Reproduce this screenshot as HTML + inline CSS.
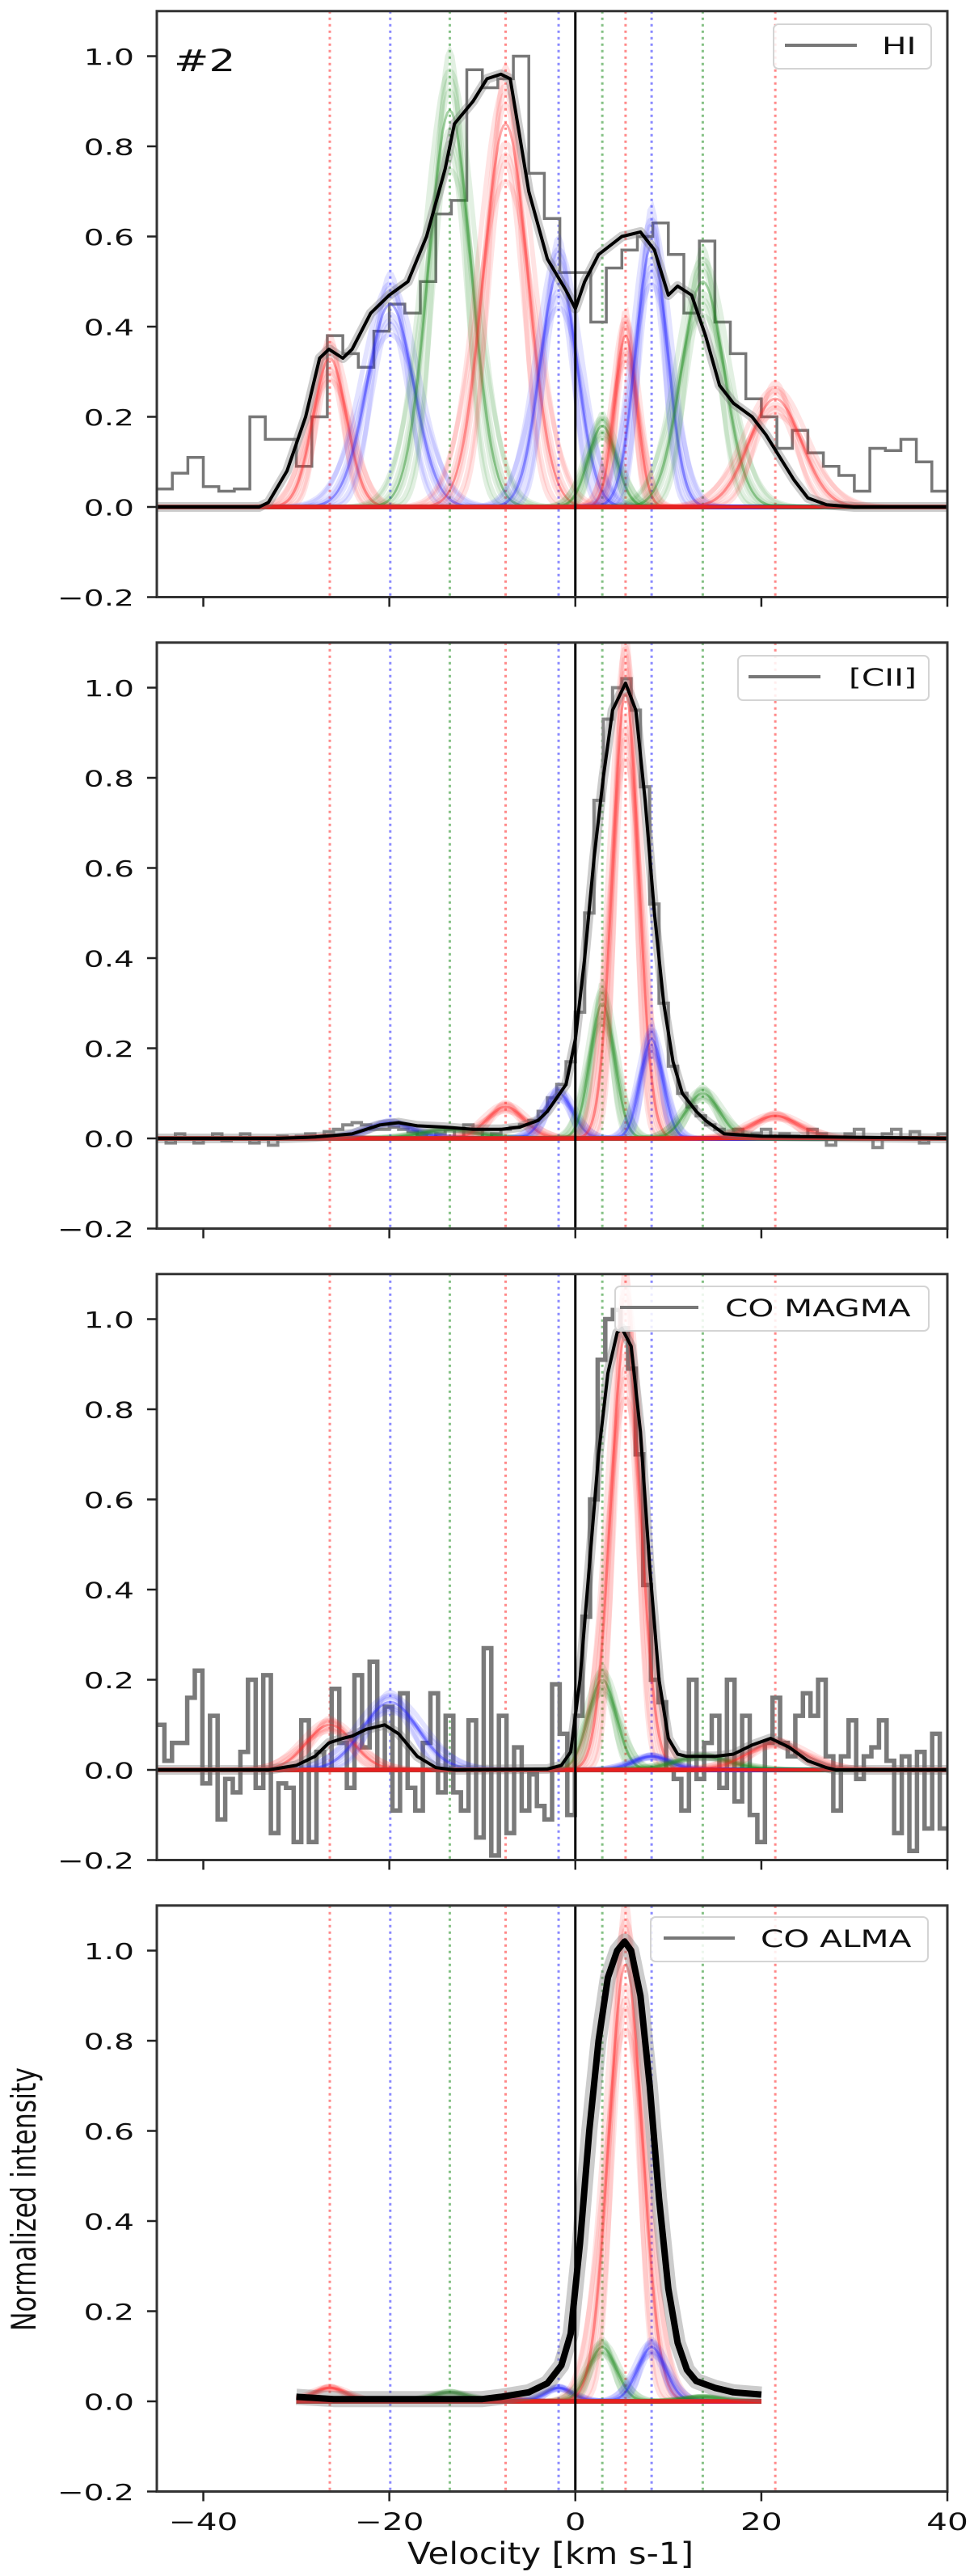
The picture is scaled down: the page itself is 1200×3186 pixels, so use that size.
<!DOCTYPE html>
<html><head><meta charset="utf-8"><style>
html,body{margin:0;padding:0;background:#fff;}
svg{display:block;}
text{font-family:"DejaVu Sans","Liberation Sans",sans-serif;fill:#111;}
</style></head><body>
<svg id="fig" width="1200" height="3186" viewBox="0 0 1200 3186" xmlns="http://www.w3.org/2000/svg"></svg>
<script>
// ---------- data ----------
const panelNames = ['HI', '[CII]', 'CO MAGMA', 'CO ALMA'];
const compCenters = [-26.4, -19.9, -13.5, -7.5, -1.8, 2.9, 5.4, 8.2, 13.7, 21.5];
const compColors = ['red', 'blue', 'green', 'red', 'blue', 'green', 'red', 'blue', 'green', 'red'];
const hiAmps = [0.33, 0.45, 0.88, 0.85, 0.52, 0.18, 0.38, 0.58, 0.50, 0.24];
const hiSigmas = [1.8, 2.5, 2.3, 2.4, 2.0, 1.5, 1.2, 1.7, 2.3, 2.8];
const ciiAmps = [0.005, 0.035, 0.02, 0.07, 0.10, 0.30, 0.99, 0.22, 0.10, 0.05];
const ciiSigmas = [2.0, 2.5, 3.0, 2.0, 1.5, 1.3, 1.4, 1.2, 1.8, 2.5];
const magmaAmps = [0.10, 0.15, 0.0, 0.0, 0.0, 0.20, 0.97, 0.03, 0.03, 0.06];
const magmaSigmas = [2.5, 3.0, 2.0, 2.0, 2.0, 1.5, 1.6, 2.0, 3.0, 3.0];
const almaAmps = [0.03, 0.005, 0.02, 0.005, 0.03, 0.12, 0.97, 0.12, 0.01, 0.0];
const almaSigmas = [1.8, 2.0, 2.0, 2.0, 1.5, 1.5, 1.8, 1.5, 2.0, 2.0];

const hiModelV = [-45,-34,-33,-31,-29,-27.5,-26.5,-25,-24,-22,-20,-18,-16,-14,-13,-11,-9.5,-8,-7,-5,-3,-1,0,1,2.5,5,7,8.5,10,11,12.5,14,15.5,17,19,20.5,22,23.5,25,27,30,40];
const hiModelY = [0,0,0.01,0.08,0.2,0.33,0.35,0.33,0.35,0.43,0.47,0.5,0.6,0.75,0.85,0.9,0.95,0.96,0.95,0.7,0.55,0.48,0.44,0.5,0.56,0.6,0.61,0.57,0.47,0.49,0.47,0.38,0.27,0.23,0.2,0.16,0.11,0.06,0.02,0.005,0,0];
const ciiModelV = [-45,-32,-28,-24,-21,-19,-17,-14,-11,-8,-6,-4,-3,-2,-1,0,1,2,3,4,5.4,6.5,7.5,8.5,9.5,10.5,11.5,13,14,16,20,40];
const ciiModelY = [0,0,0.003,0.01,0.03,0.035,0.028,0.025,0.02,0.02,0.025,0.04,0.06,0.09,0.12,0.22,0.4,0.62,0.8,0.95,1.01,0.95,0.75,0.5,0.3,0.17,0.1,0.06,0.04,0.01,0.005,0];
const magmaModelV = [-45,-33,-30,-28,-26.5,-25,-24,-22.5,-20.5,-19,-17,-15,-13,-3,-1.5,-0.5,0.5,1.5,2.5,3.5,4.5,5,6,7,8,9,10,11,12,15,17,19,21,23,25,27,28,40];
const magmaModelY = [0,0,0.01,0.03,0.06,0.07,0.075,0.09,0.1,0.08,0.03,0.005,0,0.002,0.01,0.04,0.2,0.45,0.7,0.88,0.97,0.98,0.94,0.75,0.45,0.2,0.07,0.035,0.03,0.03,0.035,0.055,0.07,0.05,0.02,0.005,0,0];
const almaModelV = [-30,-26,-10,-8,-5,-3,-1.5,-0.5,0.5,1.5,2.5,3.5,4.5,5.3,6,7,8,9,10,11,12,13,15,17,20];
const almaModelY = [0.01,0.005,0.005,0.01,0.02,0.04,0.08,0.15,0.35,0.6,0.8,0.94,1.0,1.02,1.0,0.9,0.7,0.45,0.25,0.13,0.07,0.045,0.03,0.02,0.015];

const hiHist = [0.04,0.075,0.11,0.045,0.035,0.04,0.2,0.15,0.15,0.09,0.2,0.38,0.34,0.31,0.39,0.45,0.43,0.5,0.65,0.68,0.97,0.93,0.95,1.0,0.74,0.64,0.52,0.52,0.41,0.53,0.57,0.6,0.63,0.56,0.43,0.59,0.41,0.34,0.24,0.2,0.13,0.17,0.12,0.09,0.07,0.035,0.13,0.125,0.15,0.1,0.035];
const ciiHist = [0.0,-0.01,0.01,0.0,-0.01,0.0,0.01,-0.005,0.0,0.01,-0.01,0.0,-0.015,0.005,0.0,
 0.005,0.01,0.0,0.015,0.02,0.03,0.035,0.03,0.02,0.02,0.025,0.02,0.015,0.005,0.0,
 0.01,0.02,0.0,0.03,0.02,0.0,0.01,0.02,0.025,0.03,0.04,0.06,0.09,0.12,0.17,
 0.28,0.5,0.75,0.93,1.0,1.02,0.95,0.78,0.52,0.3,0.16,0.1,0.07,0.05,0.03,
 0.02,0.01,0.02,0.0,0.01,0.02,0.0,0.01,0.005,0.0,0.02,0.01,-0.015,0.0,0.01,0.02,0.0,-0.02,0.01,0.02,0.0,0.015,-0.01,0.0,0.01];
const magmaHist = [0.10,0.02,0.06,0.06,0.16,0.22,-0.03,0.12,-0.11,-0.02,-0.05,0.04,0.2,-0.04,0.21,-0.14,-0.03,-0.04,-0.16,0.11,-0.16,0.04,0.0,0.18,0.06,-0.04,0.21,0.05,0.24,0.0,0.14,-0.09,0.17,-0.04,-0.09,0.06,0.17,-0.05,0.12,-0.05,-0.09,0.11,-0.15,0.27,-0.19,0.12,-0.14,0.05,-0.09,-0.01,-0.08,-0.11,0.19,0.08,-0.1,0.12,0.34,0.6,0.91,1.0,1.02,0.98,0.89,0.7,0.41,0.2,0.15,0.0,-0.02,-0.09,0.2,-0.02,0.06,0.12,-0.04,0.2,-0.07,0.12,-0.1,-0.16,0.06,0.16,0.06,0.03,0.12,0.17,0.12,0.2,0.03,-0.09,0.03,0.11,-0.02,0.03,0.05,0.11,0.02,-0.14,0.03,-0.18,0.04,-0.13,0.08,-0.13];

const xTicks = [-40, -20, 0, 20, 40];
const yTicks = [-0.2, 0.0, 0.2, 0.4, 0.6, 0.8, 1.0];

// ---------- layout ----------
const NS = 'http://www.w3.org/2000/svg';
const svg = document.getElementById('fig');
const X0 = 194, X1 = 1172, XMIN = -45, XMAX = 40;
const PX = (X1 - X0) / (XMAX - XMIN);
const YS = 557.5;
function xS(v) { return X0 + (v - XMIN) * PX; }
function zeroY(p) { return 627 + 781 * p; }
function yS(p, val) { return zeroY(p) - val * YS; }
const colMap = { red: [255, 40, 40], blue: [40, 40, 255], green: [30, 140, 30] };
function el(tag, attrs, parent) {
  const e = document.createElementNS(NS, tag);
  for (const k in attrs) e.setAttribute(k, attrs[k]);
  (parent || svg).appendChild(e);
  return e;
}
function fmt(v) { return (v < 0 ? '\u2212' : '') + Math.abs(v).toFixed(1); }

const defs = el('defs', {});
const panels = [
  { amps: hiAmps, sig: hiSigmas, mv: hiModelV, my: hiModelY, hist: hiHist, h0: -45, hw: 85 / 51, hcol: '#777', hwid: 3.5, vmin: -45, vmax: 40, lw: 4,
    legend: { bx: 957, bw: 195, by: 30, l0: 971, l1: 1060, tx: 1091 } },
  { amps: ciiAmps, sig: ciiSigmas, mv: ciiModelV, my: ciiModelY, hist: ciiHist, h0: -45, hw: 1, hcol: '#888', hwid: 4, vmin: -45, vmax: 40, lw: 4,
    legend: { bx: 913, bw: 236, by: 811, l0: 926, l1: 1015, tx: 1050 } },
  { amps: magmaAmps, sig: magmaSigmas, mv: magmaModelV, my: magmaModelY, hist: magmaHist, h0: -45, hw: 85 / 104, hcol: '#7a7a7a', hwid: 5.5, vmin: -45, vmax: 40, lw: 4,
    legend: { bx: 761, bw: 388, by: 1591, l0: 767, l1: 864, tx: 897 } },
  { amps: almaAmps, sig: almaSigmas, mv: almaModelV, my: almaModelY, hist: null, vmin: -30, vmax: 20, lw: 8,
    legend: { bx: 805, bw: 343, by: 2371, l0: 821, l1: 909, tx: 941 } }
];
const ampJit = [0.15, -0.1, 0.05, -0.05, 0, 0.1, -0.15, 0.08, -0.08];
const sigJit = [-0.3, -0.2, -0.1, 0.1, 0, 0.2, 0.3, -0.05, 0.05];

panels.forEach((P, p) => {
  const top = yS(p, 1.1), bot = yS(p, -0.2);
  const g = el('g', {});
  
  
  const cp = el('clipPath', { id: 'clip' + p }, defs);
  el('rect', { x: X0, y: top, width: X1 - X0, height: bot - top }, cp);
  const plot = el('g', { 'clip-path': 'url(#clip' + p + ')' }, g);

  compCenters.forEach((c, i) => {
    const cc = colMap[compColors[i]];
    const ln = el('line', { x1: xS(c), x2: xS(c), y1: top, y2: bot, stroke: 'rgba(' + cc.join(',') + ',0.55)', 'stroke-width': 3, 'stroke-dasharray': '3 5' }, plot);
    
    
  });

  if (P.hist) {
    let d = '';
    P.hist.forEach((v, i) => {
      const xa = xS(P.h0 + i * P.hw), xb = xS(P.h0 + (i + 1) * P.hw), y = yS(p, v);
      d += (i === 0 ? 'M' : 'L') + xa.toFixed(1) + ',' + y.toFixed(1) + 'L' + xb.toFixed(1) + ',' + y.toFixed(1);
    });
    const h = el('path', { d: d, fill: 'none', stroke: P.hcol, 'stroke-width': P.hwid, 'stroke-linejoin': 'miter' }, plot);
    
    
  }

  compCenters.forEach((c, i) => {
    const cc = colMap[compColors[i]];
    const a = P.amps[i], s = P.sig[i];
    for (let k = 0; k < ampJit.length; k++) {
      const aa = a * (1 + ampJit[k]), ss = s * (1 + sigJit[k]);
      let d = '';
      for (let v = P.vmin; v <= P.vmax + 1e-9; v += 0.25) {
        const val = aa * Math.exp(-0.5 * Math.pow((v - c) / ss, 2));
        d += (d ? 'L' : 'M') + xS(v).toFixed(1) + ',' + yS(p, val).toFixed(1);
      }
      const cu = el('path', { d: d, fill: 'none', stroke: 'rgba(' + cc.join(',') + ',' + (k === 4 ? 0.4 : 0.13) + ')', 'stroke-width': k === 4 ? 3 : 6 }, plot);
      
      
    }
  });
  const bl = el('line', { x1: xS(P.vmin), x2: xS(P.vmax), y1: zeroY(p), y2: zeroY(p), stroke: '#e82020', 'stroke-width': 4 }, plot);
  
  

  let md = '';
  P.mv.forEach((v, i) => { md += (i ? 'L' : 'M') + xS(v).toFixed(1) + ',' + yS(p, P.my[i]).toFixed(1); });
  const halo = el('path', { d: md, fill: 'none', stroke: 'rgba(110,110,110,0.35)', 'stroke-width': P.lw + (p === 3 ? 12 : 8), 'stroke-linejoin': 'round' }, plot);
  
  
  const m = el('path', { d: md, fill: 'none', stroke: '#000', 'stroke-width': P.lw, 'stroke-linejoin': 'round' }, plot);
  
  

  const zl = el('line', { x1: xS(0), x2: xS(0), y1: top, y2: bot, stroke: '#000', 'stroke-width': 3 }, g);
  
  

  const fr = el('rect', { x: X0, y: top, width: X1 - X0, height: bot - top, fill: 'none', stroke: '#333', 'stroke-width': 3 }, g);
  
  

  yTicks.forEach(t => {
    const y = yS(p, t);
    el('line', { x1: X0 - 12, x2: X0, y1: y, y2: y, stroke: '#222', 'stroke-width': 2.5 }, g);
    const tx = el('text', { transform: 'translate(166,' + (y + 10.5) + ') scale(1.4,1)', 'font-size': 28, 'text-anchor': 'end' }, g);
    tx.textContent = fmt(t);
    
    
  });
  xTicks.forEach(t => {
    el('line', { x1: xS(t), x2: xS(t), y1: bot, y2: bot + 12, stroke: '#222', 'stroke-width': 2.5 }, g);
    if (p === 3) {
      const tx = el('text', { transform: 'translate(' + xS(t) + ',3129) scale(1.4,1)', 'font-size': 29, 'text-anchor': 'middle' }, g);
      tx.textContent = (t < 0 ? '\u2212' : '') + Math.abs(t);
      
      
    }
  });

  const L = P.legend;
  const lg = el('g', {}, g);
  
  
  el('rect', { x: L.bx, y: L.by, width: L.bw, height: 55, rx: 6, fill: 'rgba(255,255,255,0.85)', stroke: '#d4d4d4', 'stroke-width': 2 }, lg);
  el('line', { x1: L.l0, x2: L.l1, y1: L.by + 26, y2: L.by + 26, stroke: '#777', 'stroke-width': 4 }, lg);
  const lt = el('text', { transform: 'translate(' + L.tx + ',' + (L.by + 37) + ') scale(1.4,1)', 'font-size': 29 }, lg);
  lt.textContent = panelNames[p];
  
  
});

const tag = el('text', { transform: 'translate(215,88) scale(1.4,1)', 'font-size': 37 });
tag.textContent = '#2';


const xl = el('text', { x: 681, y: 3171, 'font-size': 37, 'text-anchor': 'middle', textLength: 354, lengthAdjust: 'spacingAndGlyphs' });
xl.textContent = 'Velocity [km s-1]';


const yl = el('text', { transform: 'translate(44,2720) rotate(-90)', 'font-size': 42, 'text-anchor': 'middle', textLength: 326, lengthAdjust: 'spacingAndGlyphs' });
yl.textContent = 'Normalized intensity';


</script>
</body></html>
